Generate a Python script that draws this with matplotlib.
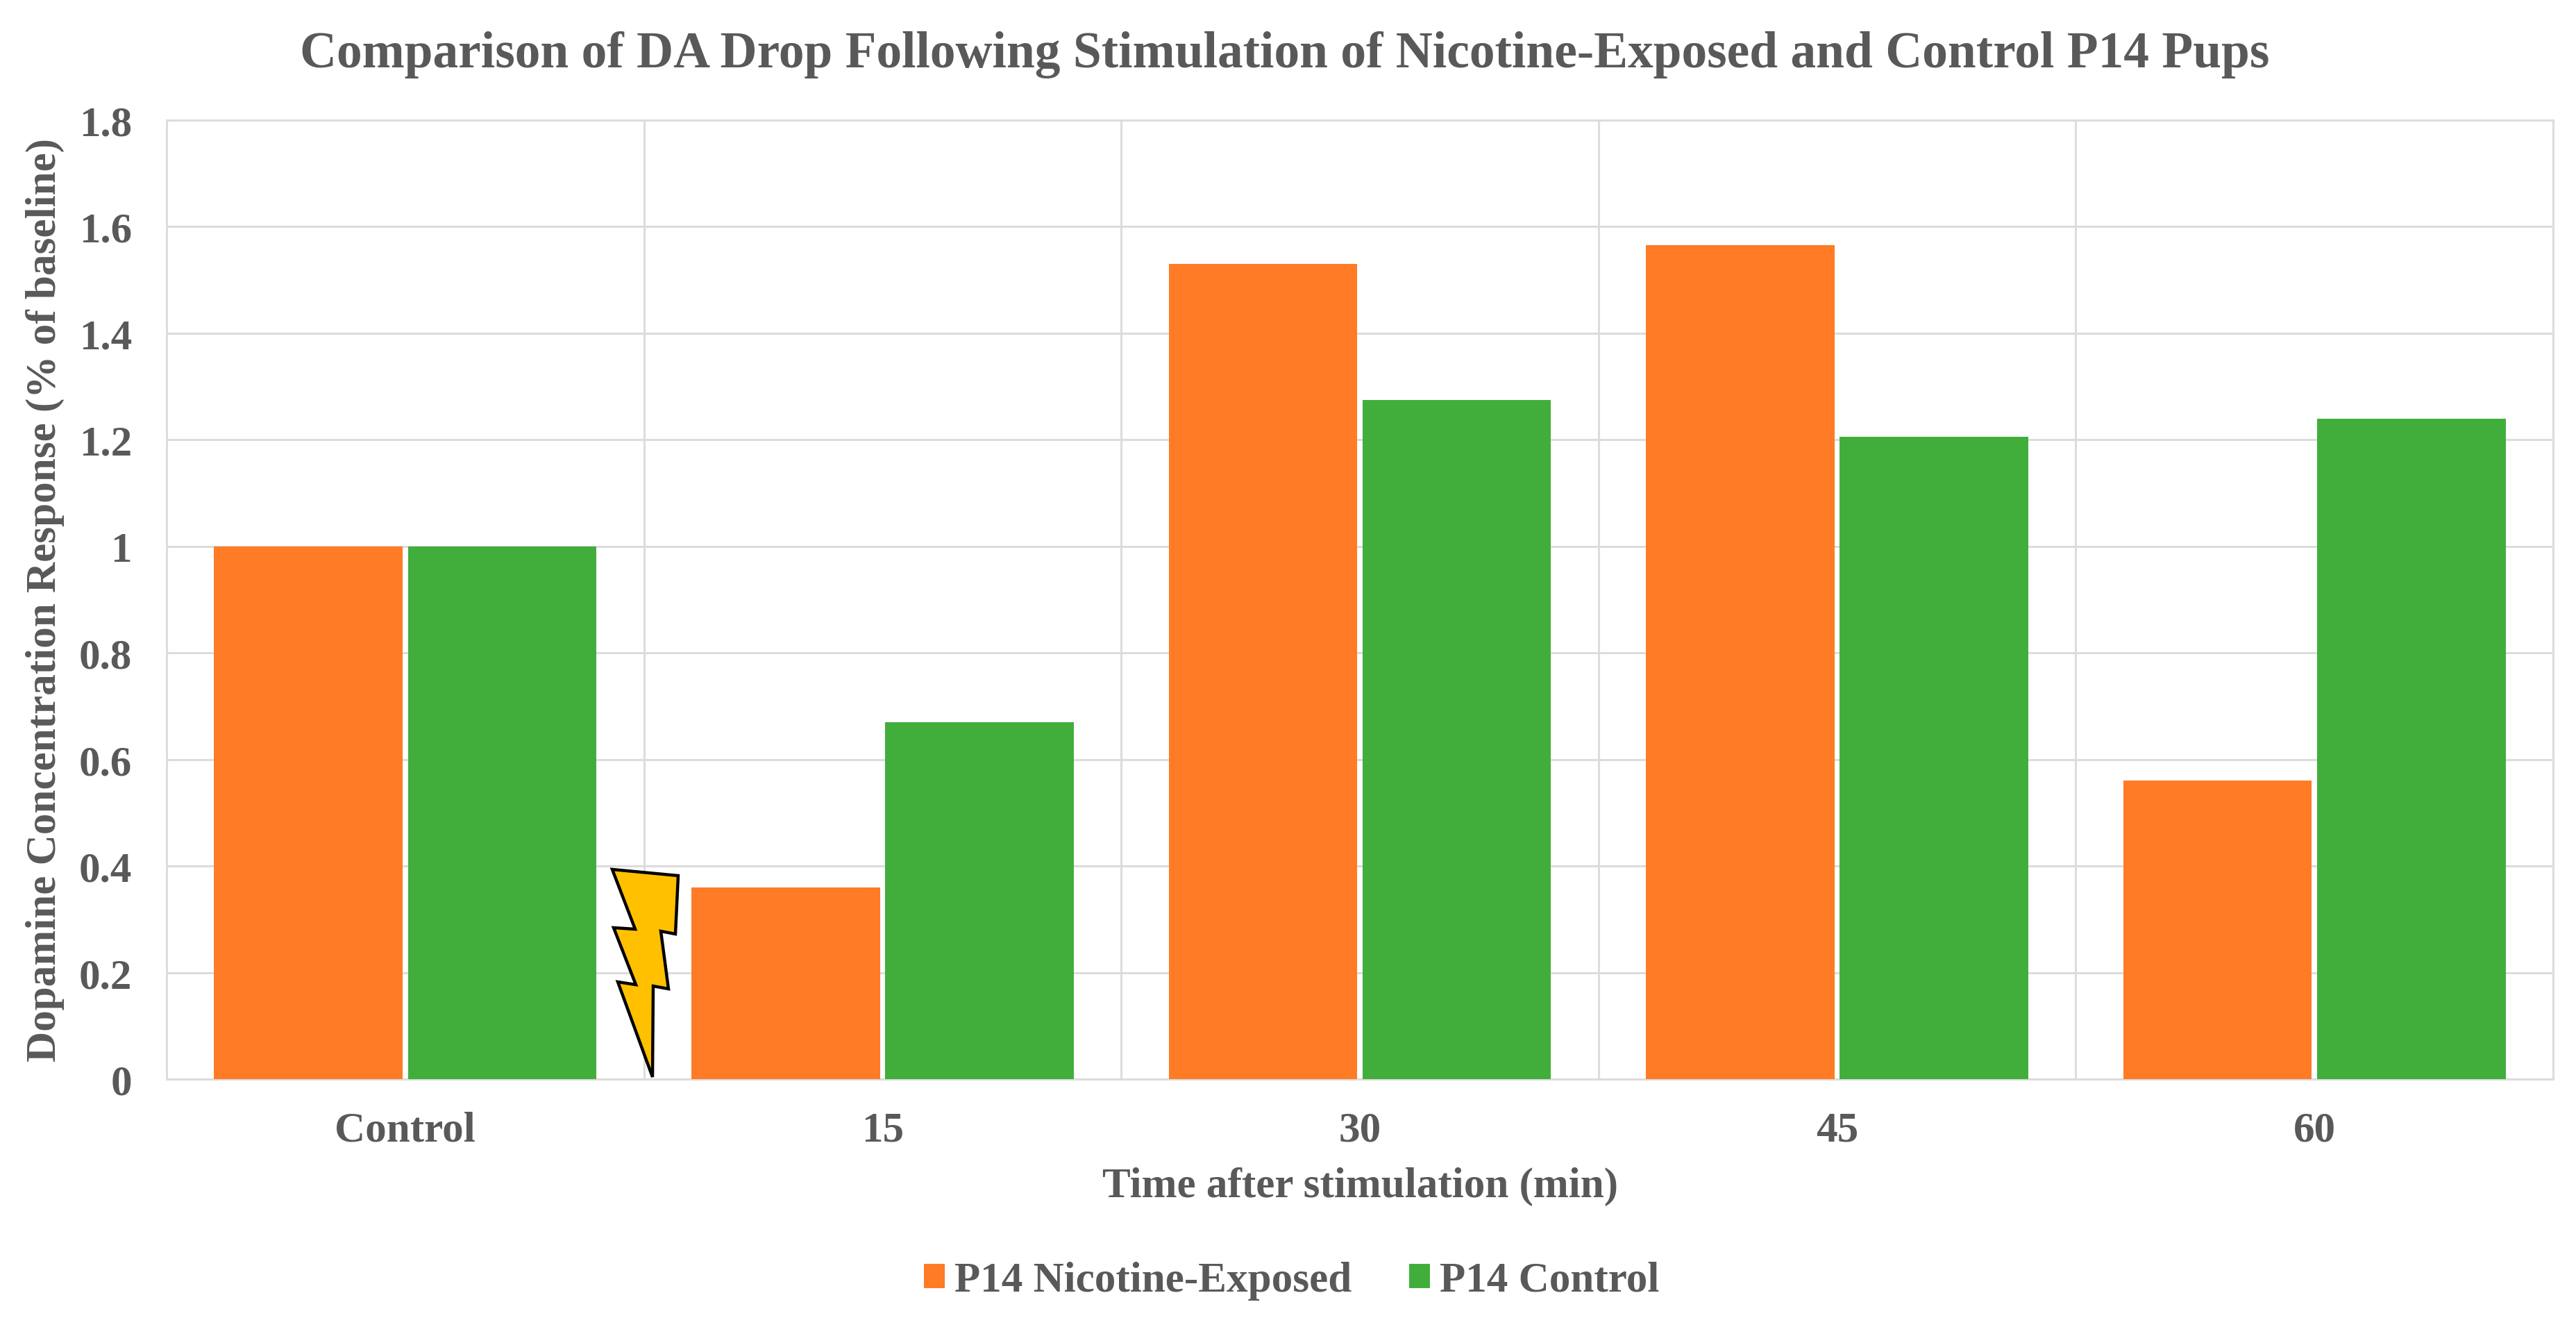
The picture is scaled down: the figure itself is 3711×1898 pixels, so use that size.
import matplotlib
matplotlib.use("Agg")
import matplotlib.pyplot as plt
from matplotlib.patches import Polygon
from matplotlib.ticker import FuncFormatter
import numpy as np

W, H = 3711, 1899
categories = ["Control", "15", "30", "45", "60"]
nicotine = [1.0, 0.36, 1.53, 1.565, 0.56]
control = [1.0, 0.67, 1.275, 1.205, 1.24]
series_names = ["P14 Nicotine-Exposed", "P14 Control"]
yticks = [0, 0.2, 0.4, 0.6, 0.8, 1.0, 1.2, 1.4, 1.6, 1.8]
title = "Comparison of DA Drop Following Stimulation of Nicotine-Exposed and Control P14 Pups"
xlabel = "Time after stimulation (min)"
ylabel = "Dopamine Concentration Response (% of baseline)"

ORANGE, GREEN, TEXT, GRID = "#FF7B25", "#41AE3C", "#595959", "#DCDCDC"
plt.rcParams["font.family"] = "Liberation Serif"
plt.rcParams["font.weight"] = "bold"

fig = plt.figure(figsize=(W / 100, H / 100), dpi=100)
L, R, T, B = 240, 3678, 174, 1555
ax = fig.add_axes([L / W, 1 - B / H, (R - L) / W, (B - T) / H])

x = np.arange(len(categories))
bw, off = 0.395, 0.203
b1 = ax.bar(x - off, nicotine, bw, color=ORANGE, zorder=3, label=series_names[0])
b2 = ax.bar(x + off, control, bw, color=GREEN, zorder=3, label=series_names[1])

ax.set_xlim(-0.5, len(categories) - 0.5)
ax.set_ylim(0, 1.8)
ax.set_yticks(yticks)
ax.yaxis.set_major_formatter(FuncFormatter(lambda v, _: f"{v:g}"))
ax.set_xticks(x, categories)
ax.set_xticks(x[:-1] + 0.5, minor=True)
ax.grid(True, axis="y", which="major", color=GRID, lw=2.2, zorder=0)
ax.grid(True, axis="x", which="minor", color=GRID, lw=2.2, zorder=0)
ax.grid(False, axis="x", which="major")
ax.tick_params(axis="both", which="both", length=0)
ax.tick_params(axis="y", labelsize=44, labelcolor=TEXT, pad=36)
ax.tick_params(axis="x", labelsize=44, labelcolor=TEXT, pad=33)
for s in ax.spines.values():
    s.set_color(GRID)
    s.set_linewidth(2.2)
ax.set_axisbelow(True)

ax.set_xlabel(xlabel, fontsize=44, color=TEXT, fontweight="bold")
ax.xaxis.set_label_coords(0.5, -(1709 - B) / (B - T), transform=ax.transAxes)
ax.xaxis.label.set_va("center")
ax.set_ylabel(ylabel, fontsize=44, color=TEXT, fontweight="bold")
ax.yaxis.set_label_coords(-(L - 65) / (R - L), 0.5, transform=ax.transAxes)
ax.yaxis.label.set_va("center")
fig.text(1851 / W, 1 - 79 / H, title, ha="center", va="center",
         fontsize=52.8, color=TEXT, fontweight="bold")

leg = fig.legend(handles=[b1, b2], labels=series_names, loc="center",
                 bbox_to_anchor=(1861 / W, 1 - 1845 / H), ncol=2, frameon=False,
                 fontsize=44, labelcolor=TEXT, handlelength=0.49, handleheight=0.49,
                 handletextpad=0.23, columnspacing=1.355, borderpad=0, borderaxespad=0)

# Stimulation lightning-bolt annotation (outline in figure pixels)
bolt_px = [(882, 1253), (977, 1262), (973, 1346), (952, 1342), (963, 1425), (941, 1421),
           (940, 1552), (890, 1415), (916, 1419), (884, 1337), (915, 1339)]
bolt = Polygon([(px / W, 1 - py / H) for px, py in bolt_px], closed=True,
               transform=fig.transFigure, facecolor="#FFC000", edgecolor="black",
               lw=3.2, joinstyle="miter", zorder=5)
fig.add_artist(bolt)

fig.savefig("out.png", dpi=100, facecolor="white")
